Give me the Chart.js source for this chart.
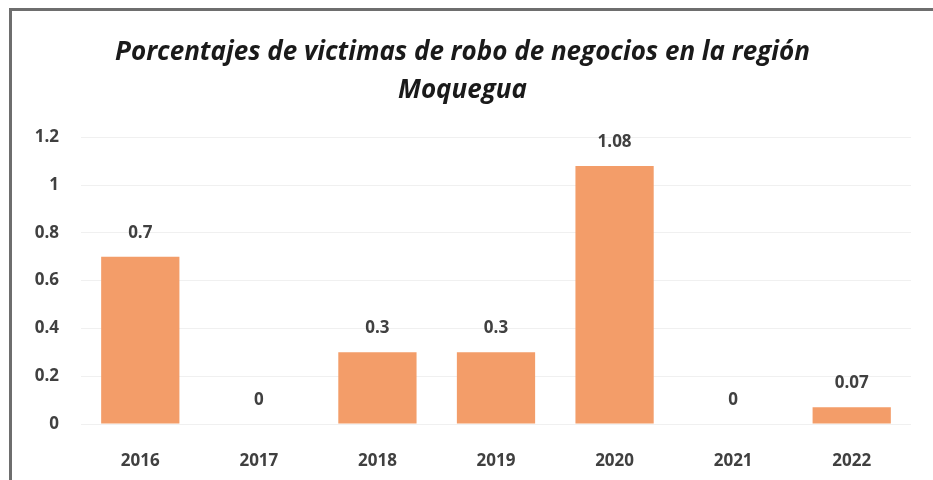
<!DOCTYPE html>
<html>
<head>
<meta charset="utf-8">
<script src="https://cdn.jsdelivr.net/npm/chart.js@4/dist/chart.umd.min.js"></script>
<style>
  html, body { margin: 0; padding: 0; background: #fff; }
  .wrap { position: relative; width: 933px; height: 480px; }
  .frame {
    position: absolute; left: 9px; top: 8px; right: 0; bottom: 0;
    border-left: 3px solid #6e6e6e; border-top: 3px solid #6e6e6e;
    pointer-events: none;
  }
</style>
</head>
<body>
<div class="wrap">
  <canvas id="myChart" width="933" height="480"></canvas>
  <div class="frame"></div>
</div>
<script>
const years = ["2016", "2017", "2018", "2019", "2020", "2021", "2022"]
const victimas = [0.7, 0, 0.3, 0.3, 1.08, 0, 0.07]
const yTicks = [0, 0.2, 0.4, 0.6, 0.8, 1, 1.2]

// labels above the bars (no datalabels plugin offline)
const valueLabels = {
  id: "valueLabels",
  afterDatasetsDraw(chart) {
    const ctx = chart.ctx
    const meta = chart.getDatasetMeta(0)
    ctx.save()
    ctx.font = "bold 17px 'Open Sans'"
    ctx.fillStyle = "#404040"
    ctx.textAlign = "center"
    ctx.textBaseline = "middle"
    meta.data.forEach((bar, i) => {
      ctx.fillText(String(victimas[i]), bar.x, bar.y - 24)
    })
    ctx.restore()
  },
}

const ctx = document.getElementById("myChart").getContext("2d")
const myChart = new Chart(ctx, {
  type: "bar",
  data: {
    labels: years,
    datasets: [
      {
        data: victimas,
        backgroundColor: "#F39D69",
        barPercentage: 0.66,
        categoryPercentage: 1,
      },
    ],
  },
  options: {
    responsive: false,
    animation: false,
    layout: { padding: { left: 14, right: 22, top: 10, bottom: 0 } },
    plugins: {
      legend: { display: false },
      tooltip: { enabled: false },
      title: {
        display: true,
        text: ["Porcentajes de victimas de robo de negocios en la región", "Moquegua"],
        color: "#1a1a1a",
        font: { family: "'Open Sans'", size: 26, style: "italic", weight: "bold", lineHeight: 1.485 },
        padding: { top: 23, bottom: 27 },
      },
    },
    scales: {
      x: {
        grid: { display: false },
        border: { display: false },
        ticks: { color: "#404040", font: { family: "'Open Sans'", size: 17, weight: "bold" }, padding: 19 },
        afterFit(scale) { scale.height = 56 },
      },
      y: {
        min: 0,
        max: 1.2,
        afterBuildTicks(scale) { scale.ticks = yTicks.map((v) => ({ value: v })) },
        grid: { color: "#f0f0f0", drawTicks: false },
        border: { display: false },
        ticks: {
          color: "#404040",
          font: { family: "'Open Sans'", size: 17, weight: "bold" },
          padding: 22,
          callback: (v) => String(v),
        },
        afterFit(scale) { scale.width = 67 },
      },
    },
  },
  plugins: [valueLabels],
})
</script>
</body>
</html>
